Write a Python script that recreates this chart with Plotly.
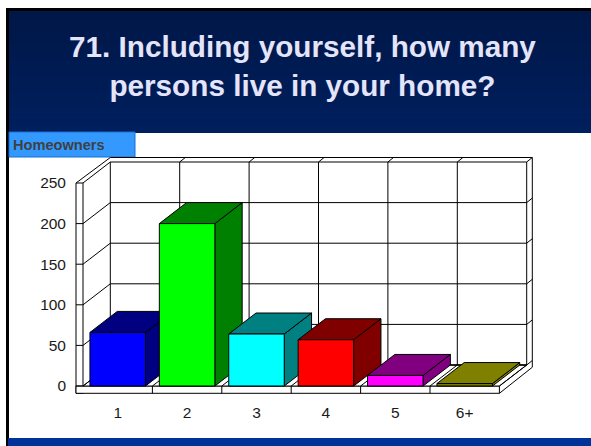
import plotly.graph_objects as go

W, H = 591, 446
categories = ["1", "2", "3", "4", "5", "6+"]
values = [66, 200, 64, 57, 13, 3]
front_colors = ["#0000ff", "#00ff00", "#00ffff", "#ff0000", "#ff00ff", "#808000"]
dark_colors = ["#000080", "#008000", "#008080", "#800000", "#800080", "#808000"]
y_ticks = [0, 50, 100, 150, 200, 250]
title_text = "71. Including yourself, how many<br>persons live in your home?"
tag_text = "Homeowners"

# Front plane of the pseudo-3D box in pixels
PX_L, PX_R, PY_T, PY_B = 83.0, 499.4, 183.0, 386.0
CAT_PX = (PX_R - PX_L) / len(categories)
VAL_PX = (PY_B - PY_T) / 250
DX = 27.3 / CAT_PX      # depth offset in category units
DY = 21.0 / VAL_PX      # depth offset in value units
HALF = 0.4              # half of a bar width
X0, X1 = -0.5, len(categories) - 0.5
PLATE_X = 7 / CAT_PX
PLATE_Y = 7.3 / VAL_PX
OUT_X = 5.6 / CAT_PX
OUT_Y = 4.5 / VAL_PX

fig = go.Figure()


def poly(xs, ys, fill=None, width=1, color="#000000"):
    fig.add_trace(go.Scatter(
        x=xs, y=ys, mode="lines", hoverinfo="skip", showlegend=False,
        line=dict(color=color, width=width),
        fill="toself" if fill else None, fillcolor=fill,
    ))


top = y_ticks[-1]
# Left wall front, floor plate, floor top
poly([X0 - PLATE_X, X0, X0, X0 - PLATE_X, X0 - PLATE_X], [-PLATE_Y, -PLATE_Y, top, top, -PLATE_Y], "#ffffff")
poly([X0 - PLATE_X, X1, X1, X0 - PLATE_X, X0 - PLATE_X], [-PLATE_Y, -PLATE_Y, 0, 0, -PLATE_Y], "#ffffff")
poly([X0, X0 + DX, X1 + DX, X1, X0], [0, DY, DY, 0, 0], "#ffffff")
# Outer contour: top rim, right side
poly([X0 - PLATE_X, X0 + DX, X1 + DX + OUT_X, X1 + DX + OUT_X, X1],
     [top, top + DY + OUT_Y, top + DY + OUT_Y, DY - OUT_Y / 2, -PLATE_Y])
poly([X0, X0 + DX], [top, top + DY])
# Back wall
poly([X0 + DX, X1 + DX, X1 + DX, X0 + DX, X0 + DX], [DY, DY, top + DY, top + DY, DY])
poly([X1 + DX, X1 + DX + OUT_X], [top + DY, top + DY + OUT_Y])
poly([X1, X1 + DX], [0, DY])

# Horizontal grid lines, with left-wall rungs, diagonals and right-wall nubs
for v in y_ticks[:-1]:
    poly([X0 - PLATE_X, X0, X0 + DX, X1 + DX, X1 + DX + OUT_X],
         [v, v, v + DY, v + DY, v + DY + OUT_Y])
# Vertical grid lines with floor diagonals and plate separators
for k in range(1, len(categories)):
    xk = X0 + k
    poly([xk, xk, xk + DX, xk + DX, xk + DX + OUT_X],
         [-PLATE_Y, 0, DY, top + DY, top + DY + OUT_Y])

# Bars: left to right, right face, top face, front face
for i, v in enumerate(values):
    l, r = i - HALF, i + HALF
    poly([r, r + DX, r + DX, r, r], [0, DY, v + DY, v, 0], dark_colors[i])
    poly([l, l + DX, r + DX, r, l], [v, v + DY, v + DY, v, v], dark_colors[i])
    poly([l, r, r, l, l], [0, 0, v, v, 0], front_colors[i])

# Slide background: vertical gradient, each band painted down to the page bottom
shapes = []
N = 80
Y_TOP, Y_BOT = 11, 446
for i in range(N):
    t = i / (N - 1)
    g = int(0x18 + (0x33 - 0x18) * t)
    b = int(0x48 + (0x99 - 0x48) * t)
    y0 = Y_TOP + (Y_BOT - Y_TOP) * i / N
    shapes.append(dict(type="rect", xref="paper", yref="paper", layer="below",
                       x0=8 / W, x1=1, y0=1 - y0 / H, y1=0,
                       fillcolor=f"rgb(0,{g},{b})", line_width=0))
# Black slide edge
shapes.append(dict(type="rect", xref="paper", yref="paper", layer="below", x0=6 / W, x1=1,
                   y0=1 - 11 / H, y1=1 - 8 / H, fillcolor="#000000", line_width=0))
shapes.append(dict(type="rect", xref="paper", yref="paper", layer="below", x0=6 / W, x1=9 / W,
                   y0=1 - 438 / H, y1=1 - 8 / H, fillcolor="#000000", line_width=0))
shapes.append(dict(type="rect", xref="paper", yref="paper", layer="below", x0=6 / W, x1=8 / W,
                   y0=0, y1=1 - 438 / H, fillcolor="#000000", line_width=0))
# White panel and tag
shapes.append(dict(type="rect", xref="paper", yref="paper", layer="below", x0=9 / W, x1=1,
                   y0=1 - 438 / H, y1=1 - 133 / H, fillcolor="#ffffff", line_width=0))
shapes.append(dict(type="rect", xref="paper", yref="paper", layer="below", x0=9 / W, x1=135 / W,
                   y0=1 - 157 / H, y1=1 - 132 / H, fillcolor="#3399ff",
                   line=dict(color="#1a6fd0", width=1)))

fig.update_layout(
    width=W, height=H, autosize=False,
    margin=dict(l=0, r=0, t=0, b=0),
    paper_bgcolor="#ffffff", plot_bgcolor="rgba(0,0,0,0)",
    shapes=shapes, showlegend=False,
    font=dict(family="Liberation Sans, Arial, sans-serif", color="#000000"),
    xaxis=dict(domain=[0, 1], range=[X0 - PX_L / CAT_PX, X1 + (W - PX_R) / CAT_PX],
               anchor="free", position=1 - PY_B / H, tickmode="array",
               tickvals=list(range(len(categories))), ticktext=categories,
               showgrid=False, zeroline=False, showline=False, ticks="",
               ticklabelstandoff=15, tickfont=dict(size=15.5, color="#1a1a1a"), fixedrange=True),
    yaxis=dict(domain=[0, 1], range=[-(H - PY_B) / VAL_PX, top + PY_T / VAL_PX],
               anchor="free", position=(PX_L - 7) / W, tickmode="array",
               tickvals=y_ticks, showgrid=False, zeroline=False, showline=False, ticks="",
               ticklabelstandoff=10, tickfont=dict(size=15.5, color="#1a1a1a"), fixedrange=True),
    annotations=[
        dict(text=title_text, xref="paper", yref="paper", x=302.5 / W, y=1 - 66 / H,
             xanchor="center", yanchor="middle", showarrow=False,
             font=dict(size=29.7, color="#e4e4fb", family="Liberation Sans, Arial, sans-serif", weight="bold")),
        dict(text=tag_text, xref="paper", yref="paper", x=11 / W, y=1 - 145 / H,
             xanchor="left", yanchor="middle", showarrow=False,
             font=dict(size=14.6, color="#404040", family="Liberation Sans, Arial, sans-serif", weight="bold")),
    ],
)
fig.write_html("out.html", post_script="document.body.style.margin='0';",
               config=dict(displayModeBar=False, staticPlot=True))
